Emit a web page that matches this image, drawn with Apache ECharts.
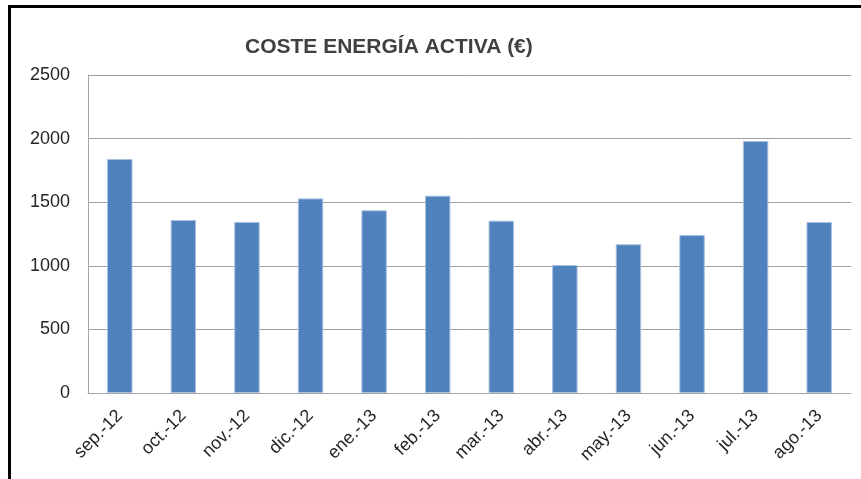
<!DOCTYPE html>
<html>
<head>
<meta charset="utf-8">
<script src="https://cdn.jsdelivr.net/npm/echarts@6/dist/echarts.min.js"></script>
<style>
html,body{margin:0;padding:0;background:#fff;}
#wrap{position:relative;width:861px;height:479px;overflow:hidden;}
#chart{position:absolute;left:0;top:0;width:861px;height:479px;}
#frame{position:absolute;left:8px;top:5px;width:870px;height:490px;border-left:3px solid #000;border-top:3px solid #000;pointer-events:none;}
</style>
</head>
<body>
<div id="wrap"><div id="chart"></div><div id="frame"></div></div>
<script>
const titleText = 'COSTE ENERGÍA ACTIVA (€)';
const categories = ['sep.-12','oct.-12','nov.-12','dic.-12','ene.-13','feb.-13','mar.-13','abr.-13','may.-13','jun.-13','jul.-13','ago.-13'];
const costValues = [1840, 1360, 1345, 1530, 1436, 1551, 1355, 1006, 1169, 1242, 1981, 1344];
const yTicks = [0, 500, 1000, 1500, 2000, 2500];

const chart = echarts.init(document.getElementById('chart'), null, {renderer:'canvas'});
chart.setOption({
  animation:false,
  backgroundColor:'#fff',
  title:{
    text:titleText,
    left:240, top:32,
    textStyle:{fontFamily:'Liberation Sans', fontWeight:'bold', fontSize:21, color:'#404040'}
  },
  grid:{left:88, right:10, top:75, bottom:86, containLabel:false},
  xAxis:{
    type:'category',
    data:categories,
    axisLine:{lineStyle:{color:'#a6a6a6', width:1}},
    axisTick:{show:false},
    axisLabel:{rotate:45, margin:20, fontFamily:'Liberation Sans', fontSize:18, color:'#262626', interval:0}
  },
  yAxis:{
    type:'value',
    min:yTicks[0], max:yTicks[yTicks.length-1], interval:500,
    axisLine:{show:true, lineStyle:{color:'#a6a6a6', width:1}},
    axisTick:{show:false},
    splitLine:{lineStyle:{color:'#a0a0a0', width:1}},
    axisLabel:{margin:18, fontFamily:'Liberation Sans', fontSize:18, color:'#262626', formatter:function(v){return String(v);}}
  },
  series:[{
    type:'bar',
    data:costValues,
    barWidth:'40%',
    itemStyle:{color:'#4F81BD', borderColor:'#a9c0e0', borderWidth:1}
  }]
});
</script>
</body>
</html>
